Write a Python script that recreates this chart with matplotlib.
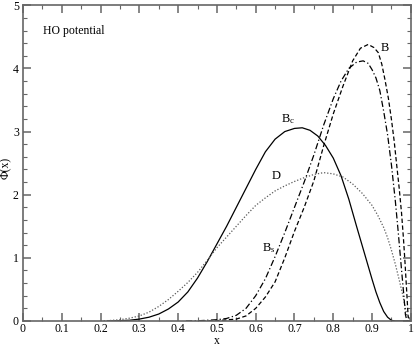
import matplotlib
matplotlib.use("Agg")
import matplotlib.pyplot as plt
from matplotlib.ticker import MultipleLocator

plt.rcParams['font.family'] = ['Liberation Serif', 'DejaVu Serif']
plt.rcParams['mathtext.fontset'] = 'custom'
plt.rcParams['mathtext.rm'] = 'Liberation Serif'
plt.rcParams['mathtext.it'] = 'Liberation Serif:italic'

# curves
bc_x = [0.22, 0.25, 0.275, 0.3, 0.325, 0.35, 0.375, 0.4, 0.425, 0.45, 0.475, 0.5,
        0.525, 0.55, 0.575, 0.6, 0.625, 0.65, 0.675, 0.7, 0.72, 0.74, 0.76, 0.78,
        0.8, 0.82, 0.84, 0.86, 0.88, 0.89, 0.9, 0.91, 0.92, 0.93, 0.94, 0.95, 0.96, 1.0]
bc_y = [0.0, 0.005, 0.012, 0.03, 0.06, 0.11, 0.19, 0.3, 0.46, 0.68, 0.94, 1.22,
        1.5, 1.8, 2.1, 2.4, 2.68, 2.88, 3.0, 3.05, 3.06, 3.02, 2.93, 2.78,
        2.58, 2.3, 1.93, 1.5, 1.08, 0.87, 0.66, 0.46, 0.29, 0.15, 0.06, 0.01, 0.0, 0.0]

d_x = [0.2, 0.225, 0.25, 0.275, 0.3, 0.325, 0.35, 0.375, 0.4, 0.425, 0.45, 0.475,
       0.5, 0.525, 0.55, 0.575, 0.6, 0.625, 0.65, 0.675, 0.7, 0.725, 0.75, 0.775,
       0.8, 0.825, 0.85, 0.875, 0.9, 0.915, 0.93, 0.94, 0.95, 0.96, 0.97, 0.98, 0.99, 1.0]
d_y = [0.0, 0.008, 0.02, 0.045, 0.08, 0.14, 0.23, 0.34, 0.47, 0.61, 0.77, 0.96,
       1.16, 1.33, 1.5, 1.67, 1.83, 1.95, 2.06, 2.14, 2.21, 2.27, 2.32, 2.35,
       2.33, 2.28, 2.17, 2.02, 1.83, 1.67, 1.48, 1.32, 1.12, 0.9, 0.65, 0.39, 0.08, 0.0]

bs_x = [0.42, 0.45, 0.5, 0.525, 0.55, 0.575, 0.6, 0.625, 0.65, 0.675, 0.7, 0.725,
        0.75, 0.775, 0.8, 0.82, 0.84, 0.86, 0.877, 0.89, 0.9, 0.91, 0.92, 0.93,
        0.94, 0.95, 0.96, 0.967, 0.976, 0.982, 0.986, 0.99, 1.0]
bs_y = [0.0, 0.003, 0.02, 0.04, 0.09, 0.2, 0.4, 0.67, 1.02, 1.4, 1.8, 2.2,
        2.63, 3.1, 3.52, 3.8, 4.0, 4.1, 4.12, 4.08, 3.98, 3.85, 3.65, 3.32,
        2.95, 2.47, 1.9, 1.44, 0.81, 0.4, 0.1, 0.0, 0.0]

b_x = [0.46, 0.5, 0.55, 0.575, 0.6, 0.625, 0.65, 0.675, 0.7, 0.725, 0.75, 0.775,
       0.8, 0.825, 0.85, 0.87, 0.89, 0.905, 0.916, 0.925, 0.933, 0.942, 0.95, 0.957,
       0.963, 0.97, 0.976, 0.981, 0.985, 0.989, 0.993, 1.0]
b_y = [0.0, 0.005, 0.03, 0.08, 0.2, 0.38, 0.62, 1.0, 1.42, 1.8, 2.22, 2.77,
       3.28, 3.72, 4.12, 4.32, 4.38, 4.33, 4.25, 4.07, 3.83, 3.53, 3.19, 2.85,
       2.5, 2.1, 1.71, 1.3, 0.92, 0.5, 0.07, 0.0]

fig = plt.figure(figsize=(4.15, 3.46), dpi=100)
ax = fig.add_axes([0.0554, 0.0723, 0.9346, 0.9124])

ax.plot(bc_x, bc_y, color='black', lw=0.9, ls='-')
ax.plot(d_x, d_y, color='0.35', lw=0.9, ls=(0, (1, 1.5)))
ax.plot(bs_x, bs_y, color='black', lw=0.9, ls=(0, (5, 2, 1, 2)))
ax.plot(b_x, b_y, color='black', lw=0.9, ls=(0, (3.5, 2)))

ax.set_xlim(0, 1)
ax.set_ylim(0, 5)
ax.xaxis.set_minor_locator(MultipleLocator(0.05))
ax.yaxis.set_major_locator(MultipleLocator(1))
ax.yaxis.set_minor_locator(MultipleLocator(0.2))
ax.set_xticks([0, 0.1, 0.2, 0.3, 0.4, 0.5, 0.6, 0.7, 0.8, 0.9, 1.0])
ax.set_xticklabels(['0', '0.1', '0.2', '0.3', '0.4', '0.5', '0.6', '0.7', '0.8', '0.9', '1'])
ax.tick_params(which='both', direction='in', top=True, right=True,
               color='0.4', labelsize=8.5)
ax.tick_params(which='major', length=6, width=1.1)
ax.tick_params(which='minor', length=3, width=0.8)
ax.tick_params(axis='x', pad=1.5)
ax.tick_params(axis='y', pad=3)
for s in ax.spines.values():
    s.set_color('0.4')
    s.set_linewidth(1.2)

# axis titles placed by hand, they sit tight to the figure edge
fig.text(217 / 415, 1 - 344 / 346, 'x', fontsize=8.5, ha='center', va='baseline')
fig.text(6 / 415, 1 - 168 / 346, 'Φ(x)', fontsize=8.5, ha='center', va='center',
         rotation=90)

ax.text(0.052, 4.59, 'HO potential', fontsize=8.5, va='center', ha='left')
ax.text(0.922, 4.33, 'B', fontsize=9, va='center', ha='left')
ax.text(0.665, 3.2, r'B$_\mathrm{c}$', fontsize=9, va='center', ha='left')
ax.text(0.642, 2.29, 'D', fontsize=9, va='center', ha='left')
ax.text(0.615, 1.16, r'B$_\mathrm{s}$', fontsize=9, va='center', ha='left')

fig.savefig('out.png', dpi=100)
